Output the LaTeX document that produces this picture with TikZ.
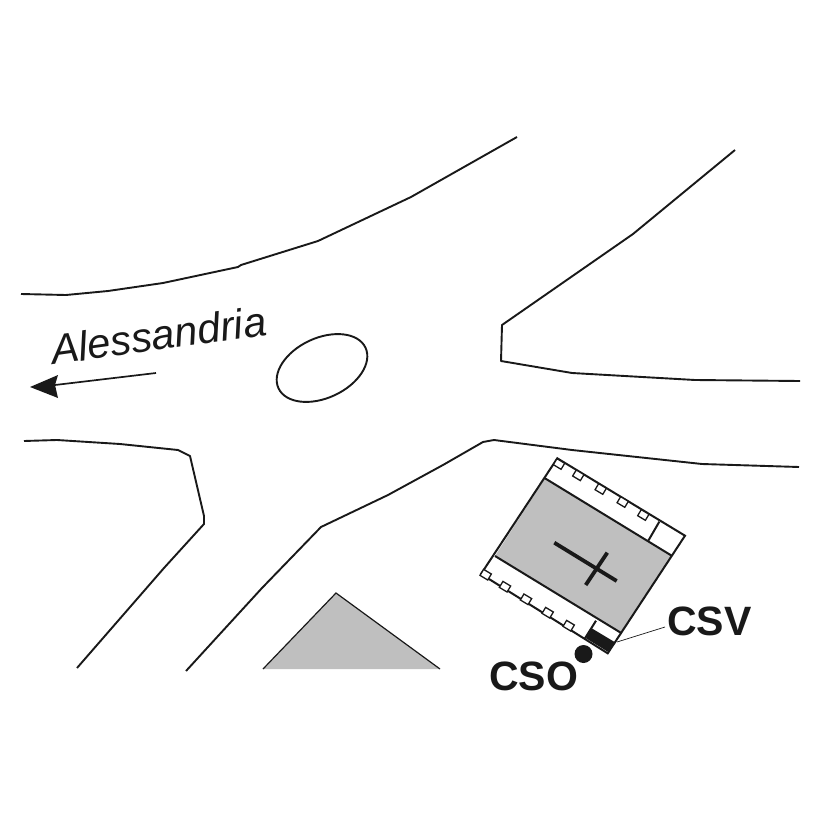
\documentclass[tikz,border=0pt]{standalone}
\usepackage{fontspec}
\setmainfont{Liberation Sans}
\definecolor{fillgray}{gray}{0.75}
\definecolor{ink}{gray}{0.1}
\tikzset{
  road/.style={draw=ink,line width=1.9pt,line join=round},
  wall/.style={draw=ink,line width=2pt,line join=miter},
  tower/.style={draw=ink,fill=white,line width=1.3pt,minimum width=9pt,minimum height=7pt,inner sep=0pt,rotate=-31,rectangle},
  bold label/.style={font=\bfseries\fontsize{41}{41}\selectfont,text=ink,inner sep=0pt,anchor=base west}
}
\begin{document}
\begin{tikzpicture}[x=1pt,y=-1pt]
\useasboundingbox (0,0) rectangle (826,826);
% roads
\draw[road] (21,294) -- (66,295) -- (108,291) -- (163,283) -- (238,267) -- (241,265) -- (318,241) -- (411,197) -- (517,137);
\draw[road] (735,150) -- (633,234) -- (502,325) -- (501,361) -- (572,373) -- (695,380) -- (800,381);
\draw[road] (24,441) -- (57,440) -- (120,444) -- (178,450) -- (190,456) -- (204,516) -- (204,524) -- (164,568) -- (77,668);
\draw[road] (186,671) -- (262,588) -- (321,527) -- (388,495) -- (443,465) -- (483,442) -- (494,440) -- (572,450) -- (702,464) -- (799,467);
% gray triangle
\fill[fillgray] (336,593) -- (440,669) -- (263,669) -- cycle;
\draw[ink,line width=1.2pt] (263,669) -- (336,593) -- (440,669);
% roundabout
\draw[road] (322,368) ellipse[x radius=48,y radius=30,rotate=25];
% direction
\coordinate (arrowstart) at (156,373);
\coordinate (arrownotch) at (55,385);
\draw[ink,line width=1.7pt] (arrowstart) -- (arrownotch);
\fill[ink] (30,387) -- (58,375) -- (55,385) -- (58,398) -- cycle;
\node[rotate=8,anchor=base west,inner sep=0pt,text=ink,font=\itshape\fontsize{41.5}{42}\selectfont] (alessandria) at (53,365) {Alessandria};
% building
\coordinate (T) at (557.3,458.3);
\coordinate (R) at (685,535.7);
\coordinate (B) at (607.7,653.3);
\coordinate (L) at (481,574);
\fill[fillgray] (545,478.3) -- (671.7,555.7) -- (621.7,633.3) -- (495,556) -- cycle;
\draw[wall] (T) -- (R) -- (B) -- (L) -- cycle;
\draw[wall] (545,478.3) -- (671.7,555.7);
\draw[wall] (495,556) -- (621.7,633.3);
\draw[wall] (659.3,521.7) -- (648.3,540.7);
\draw[wall] (596,620.7) -- (585,638.3);
\fill[ink] (591.7,628.3) -- (615.7,642.7) -- (607.7,651.7) -- (586,638.3) -- cycle;
% cross
\draw[ink,line width=3.8pt] (554.3,542.7) -- (616.7,581);
\draw[ink,line width=3.8pt] (607.3,552.7) -- (585.7,585);
% small towers
\foreach \i/\px/\py in {1/559/464,2/578.3/475.3,3/600.7/489,4/622.7/502,5/643.3/515,6/485.7/574.7,7/505/586.7,8/526/599.3,9/547.7/612.7,10/568.7/625.7}{
  \node[tower] (t\i) at (\px,\py) {};
}
% labels
\node[bold label] (csv) at (667,635) {CSV};
\node[bold label] (cso) at (489,690) {CSO};
\fill[ink] (583.5,654) circle[radius=9];
\coordinate (csvleader) at (665,627);
\draw[ink,line width=0.7pt] (617,642) -- (csvleader);
\end{tikzpicture}
\end{document}
